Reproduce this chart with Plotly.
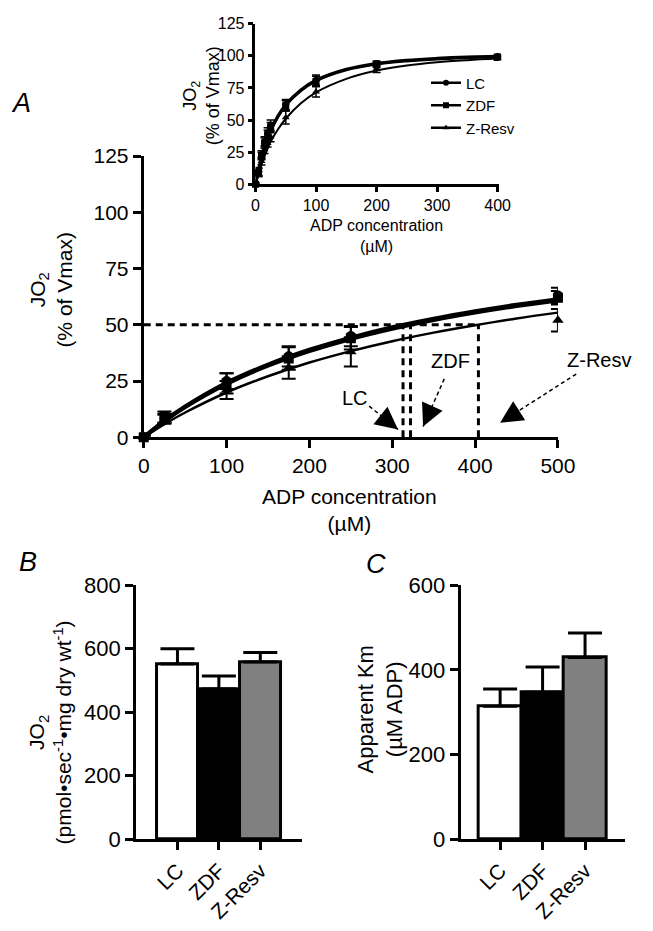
import plotly.graph_objs as go

W, H = 653, 931

# ---- data ----
groups = ['LC', 'ZDF', 'Z-Resv']
symbols = ['circle', 'square', 'triangle-up']

# panel A, main plot (mean +/- SEM)
adp_a = [0, 25, 100, 175, 250, 500]
lc_a = [0, 8.5, 25, 36, 45, 63]
lc_a_err = [0.8, 2, 3.5, 4.5, 4.5, 3.5]
zdf_a = [0, 9, 24, 35, 44, 62]
zdf_a_err = [0.8, 2.5, 4.5, 5, 5, 3]
zr_a = [0, 8, 21, 31, 38, 52]
zr_a_err = [0.8, 2, 4, 5, 6.5, 5]

# fitted curves
fit_a_x = [0, 25, 50, 100, 150, 200, 250, 300, 350, 400, 450, 500]
lc_a_fit = [0, 7.4, 13.7, 24.2, 32.3, 38.9, 44.3, 48.9, 52.7, 56.0, 58.9, 61.4]
zdf_a_fit = [0, 7.2, 13.4, 23.7, 31.8, 38.3, 43.7, 48.2, 52.1, 55.4, 58.3, 60.8]
zr_a_fit = [0, 5.8, 11.0, 19.9, 27.1, 33.2, 38.3, 42.7, 46.5, 49.8, 52.8, 55.4]

# apparent Km marked by the dashed lines
km_a = [313, 322, 404]

# panel A, inset
adp_in = [0, 5, 10, 15, 20, 25, 50, 100, 200, 400]
lc_in = [0, 10, 23, 33, 40, 46, 62, 81, 94, 99.5]
lc_in_err = [1, 3, 3, 4, 4, 4, 4, 4, 2, 1.5]
zdf_in = [0, 9, 22, 32, 38, 44, 61, 80, 93, 99]
zdf_in_err = [1, 3, 3, 4, 4, 4, 4, 4, 2, 1.5]
zr_in = [0, 8, 18, 27, 32, 37, 52, 72, 90, 98]
zr_in_err = [1, 2, 3, 3, 3, 4, 5, 4, 3, 1.5]

fit_in_x = [0, 5, 10, 15, 20, 25, 37.5, 50, 75, 100, 150, 200, 250, 300, 350, 400]
lc_in_fit = [0, 11, 21, 29, 36, 42, 53.5, 62, 73.5, 81, 89.5, 94, 96.5, 98, 99, 99.6]
zdf_in_fit = [0, 10.5, 20.5, 28.5, 35.5, 41.5, 53, 61.5, 73, 80.5, 89, 93.5, 96, 97.6, 98.6, 99.3]
zr_in_fit = [0, 8, 15.5, 22, 28, 33, 43, 51, 63, 71.5, 82, 88.5, 92.5, 95, 96.6, 97.8]

# panel B: JO2
jo2_b = [552, 473, 558]
jo2_b_err = [48, 41, 30]
# panel C: apparent Km
km_c = [314, 347, 429]
km_c_err = [41, 60, 58]

bar_colors = ['white', 'black', '#808080']

FONT = 'Liberation Sans, Arial, sans-serif'


def px(x, y):
    return x / W, 1 - y / H


data = []

# main plot curves + points
for fit, w in zip([lc_a_fit, zdf_a_fit, zr_a_fit], [4, 4, 2.5]):
    data.append(go.Scatter(x=fit_a_x, y=fit, mode='lines', xaxis='x', yaxis='y',
                           line=dict(color='black', width=w, shape='spline'),
                           showlegend=False, cliponaxis=False, hoverinfo='skip'))
for vals, errs, sym in zip([lc_a, zdf_a, zr_a], [lc_a_err, zdf_a_err, zr_a_err], symbols):
    data.append(go.Scatter(x=adp_a, y=vals, mode='markers', xaxis='x', yaxis='y',
                           marker=dict(color='black', size=10, symbol=sym),
                           error_y=dict(type='data', array=errs, color='black', thickness=2, width=7),
                           showlegend=False, cliponaxis=False))

# inset curves + points
for fit, w in zip([lc_in_fit, zdf_in_fit, zr_in_fit], [3, 3, 2]):
    data.append(go.Scatter(x=fit_in_x, y=fit, mode='lines', xaxis='x2', yaxis='y2',
                           line=dict(color='black', width=w, shape='spline'),
                           showlegend=False, cliponaxis=False, hoverinfo='skip'))
for vals, errs, sym in zip([lc_in, zdf_in, zr_in], [lc_in_err, zdf_in_err, zr_in_err], symbols):
    data.append(go.Scatter(x=adp_in, y=vals, mode='markers', xaxis='x2', yaxis='y2',
                           marker=dict(color='black', size=7, symbol=sym),
                           error_y=dict(type='data', array=errs, color='black', thickness=1.5, width=4),
                           showlegend=False, cliponaxis=False))

# legend entries for the inset
for g, sym in zip(groups, symbols):
    data.append(go.Scatter(x=[None], y=[None], mode='lines+markers', name=g,
                           xaxis='x2', yaxis='y2',
                           line=dict(color='black', width=2.5),
                           marker=dict(color='black', size=6, symbol=sym)))

# bar panels
pos = list(range(len(groups)))
data.append(go.Bar(x=pos, y=jo2_b, width=1, xaxis='x3', yaxis='y3', showlegend=False,
                   marker=dict(color=bar_colors, line=dict(color='black', width=3)),
                   error_y=dict(type='data', symmetric=False, array=jo2_b_err,
                                arrayminus=[0] * len(groups), color='black', thickness=3, width=17)))
data.append(go.Bar(x=pos, y=km_c, width=1, xaxis='x4', yaxis='y4', showlegend=False,
                   marker=dict(color=bar_colors, line=dict(color='black', width=3)),
                   error_y=dict(type='data', symmetric=False, array=km_c_err,
                                arrayminus=[0] * len(groups), color='black', thickness=3, width=17)))


def axis(lw, tl, fs, **kw):
    d = dict(showline=True, linecolor='black', linewidth=lw, ticks='outside',
             ticklen=tl, tickwidth=lw, tickcolor='black', showgrid=False,
             zeroline=False, fixedrange=True,
             tickfont=dict(size=fs, color='black', family=FONT))
    d.update(kw)
    return d


layout = go.Layout(
    width=W, height=H,
    margin=dict(l=0, r=0, t=0, b=0),
    paper_bgcolor='white', plot_bgcolor='white',
    font=dict(family=FONT, color='black'),
    bargap=0,
    xaxis=axis(3, 8, 21, domain=[143 / W, 573 / W], range=[0, 500], dtick=100, anchor='y'),
    yaxis=axis(3, 8, 21, domain=[1 - 437 / H, 1 - 148 / H], range=[0, 125], dtick=25, anchor='x'),
    xaxis2=axis(2.5, 5, 16, domain=[259 / W, 512 / W], range=[0, 402.5], dtick=100, anchor='y2'),
    yaxis2=axis(2.5, 5, 16, domain=[1 - 177 / H, 1 - 12 / H], range=[0, 125], dtick=25, anchor='x2'),
    xaxis3=axis(3, 8, 21, domain=[135 / W, 307 / W], range=[-1, 3], anchor='y3',
                tickvals=pos, ticktext=groups, tickangle=-45),
    yaxis3=axis(3, 8, 22, domain=[1 - 850 / H, 1 - 589 / H], range=[0, 800], dtick=200, anchor='x3'),
    xaxis4=axis(3, 8, 21, domain=[472 / W, 643 / W], range=[-0.93, 2.95], anchor='y4',
                tickvals=pos, ticktext=groups, tickangle=-45),
    yaxis4=axis(3, 8, 22, domain=[1 - 850 / H, 1 - 589 / H], range=[0, 600], dtick=200, anchor='x4'),
    legend=dict(x=436 / W, y=1 - 56 / H, xanchor='left', yanchor='top',
                bgcolor='rgba(0,0,0,0)', font=dict(size=15, family=FONT), tracegroupgap=0),
)

fig = go.Figure(data=data, layout=layout)

# Km dashed guides
fig.add_shape(type='line', xref='x', yref='y', x0=0, x1=max(km_a), y0=50, y1=50,
              line=dict(color='black', width=3, dash='7px,5px'))
for k in km_a:
    fig.add_shape(type='line', xref='x', yref='y', x0=k, x1=k, y0=0, y1=50,
                  line=dict(color='black', width=3, dash='7px,5px'))

# dashed arrows pointing at the Km values
arrows = [((377, 405), (407, 429)), ((455, 377), (433, 426)), ((592, 372), (513, 422))]
for tail, tip in arrows:
    x0, y0 = px(*tail)
    x1, y1 = px(*tip)
    fig.add_shape(type='line', xref='paper', yref='paper', x0=x0, y0=y0, x1=x1, y1=y1,
                  line=dict(color='black', width=1.5, dash='4px,3px'))
    dx, dy = tail[0] - tip[0], tail[1] - tip[1]
    n = (dx ** 2 + dy ** 2) ** 0.5
    fig.add_annotation(x=x1, y=y1, xref='paper', yref='paper', text='', showarrow=True,
                       ax=dx / n * 24, ay=dy / n * 24, arrowhead=2, arrowsize=3.0,
                       arrowwidth=1.5, arrowcolor='black', standoff=0)


def label(x, y, text, size, **kw):
    xx, yy = px(x, y)
    fig.add_annotation(x=xx, y=yy, xref='paper', yref='paper', text=text, showarrow=False,
                       xanchor='center', yanchor='middle',
                       font=dict(size=size, color='black', family=FONT), **kw)


label(362, 397, 'LC', 20)
label(461, 359, 'ZDF', 20)
label(616, 358, 'Z-Resv', 20)

# panel letters
label(16, 93, '<i>A</i>', 27)
label(23, 565, '<i>B</i>', 27)
label(384, 567, '<i>C</i>', 27)

# axis titles
label(47, 285, 'JO<sub>2</sub><br>(% of Vmax)', 21, textangle=-90)
label(357, 512, 'ADP concentration<br>(µM)', 21)
label(203, 86, 'JO<sub>2</sub><br>(% of Vmax)', 18, textangle=-90)
label(385, 230, 'ADP concentration<br>(µM)', 16)
label(46, 740, 'JO<sub>2</sub><br>(pmol•sec<sup>-1</sup>•mg dry wt<sup>-1</sup>)', 21, textangle=-90)
label(388, 717, 'Apparent Km<br>(µM ADP)', 22, textangle=-90)

fig.write_html("out.html", config={'displayModeBar': False},
               post_script="document.body.style.margin='0px';"
                           "document.body.style.overflow='hidden';"
                           "document.documentElement.style.overflow='hidden';")
